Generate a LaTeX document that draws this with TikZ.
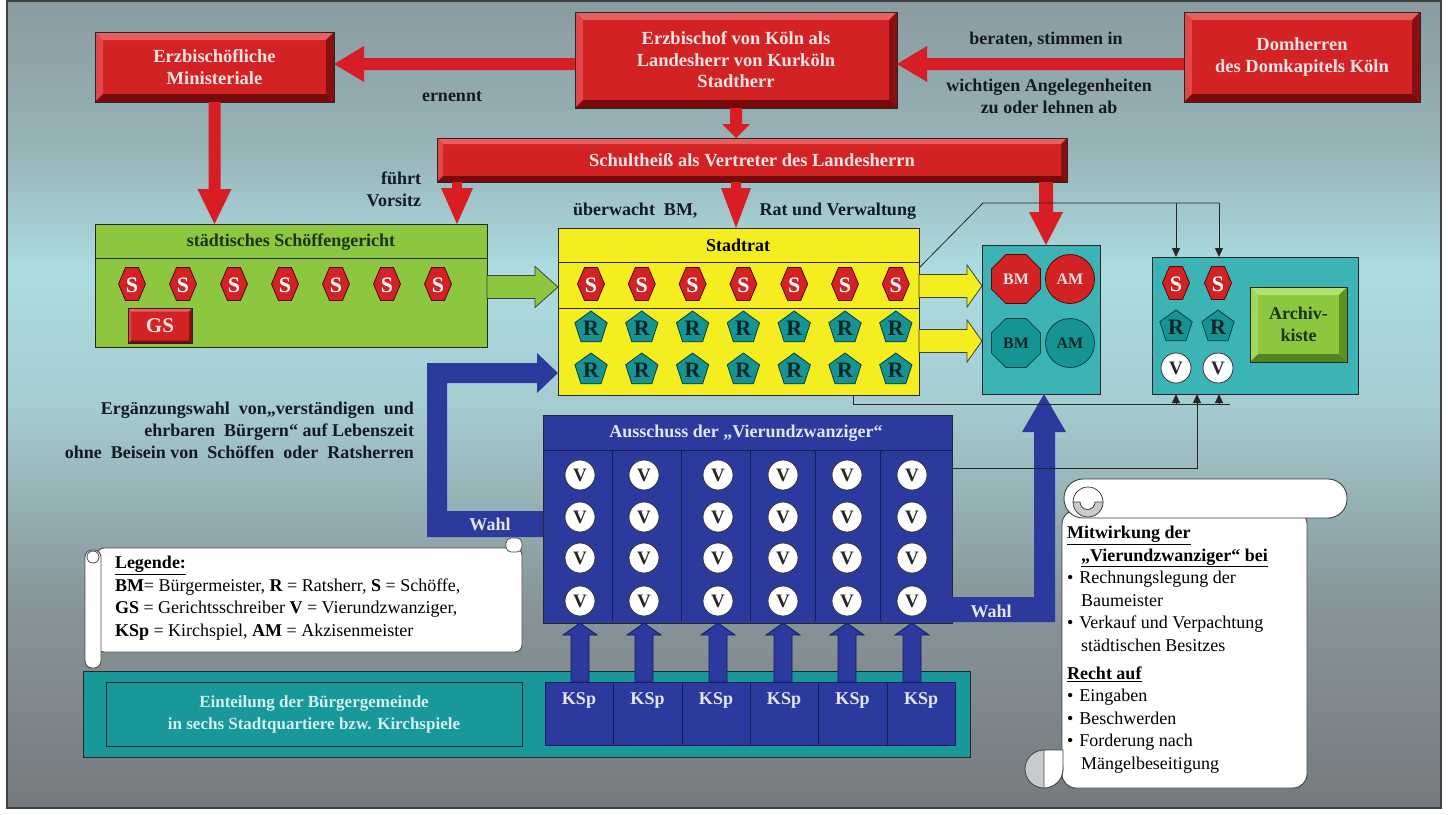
\documentclass[tikz,border=0pt]{standalone}
\usepackage{fontspec}
\setmainfont{Liberation Serif}
\usetikzlibrary{calc,shapes.geometric,arrows.meta}

\definecolor{bgA}{RGB}{118,122,126}
\definecolor{bgB}{RGB}{135,150,155}
\definecolor{bgC}{RGB}{165,205,210}
\definecolor{bgD}{RGB}{172,220,225}
\definecolor{bgE}{RGB}{152,180,185}
\definecolor{bgF}{RGB}{138,155,160}
\pgfdeclareverticalshading{bgsh}{100bp}{color(0bp)=(bgA); color(25bp)=(bgA); color(37.9bp)=(bgB); color(50.3bp)=(bgC); color(58.3bp)=(bgD); color(65.8bp)=(bgE); color(75bp)=(bgF); color(100bp)=(bgF)}

\definecolor{rface}{RGB}{210,34,36}
\definecolor{rlight}{RGB}{232,96,96}
\definecolor{rdark}{RGB}{120,10,12}
\definecolor{rtext}{RGB}{246,228,228}
\definecolor{arred}{RGB}{216,30,36}
\definecolor{gface}{RGB}{141,198,63}
\definecolor{glight}{RGB}{178,226,110}
\definecolor{gdark}{RGB}{84,132,30}
\definecolor{gtext}{RGB}{26,52,20}
\definecolor{yface}{RGB}{244,238,32}
\definecolor{tface}{RGB}{60,180,182}
\definecolor{tdark}{RGB}{10,60,60}
\definecolor{rpent}{RGB}{22,148,148}
\definecolor{rtextd}{RGB}{8,36,36}
\definecolor{bface}{RGB}{44,58,158}
\definecolor{bdark}{RGB}{20,28,90}
\definecolor{btext}{RGB}{228,230,245}
\definecolor{eface}{RGB}{24,152,154}
\definecolor{etext}{RGB}{214,240,238}
\definecolor{dtext}{RGB}{20,26,36}
\definecolor{sgray}{RGB}{200,202,204}

\newcommand\fntB{\bfseries\fontsize{18}{22}\selectfont}
\newcommand\fntBox{\bfseries\fontsize{18.5}{21.5}\selectfont}
\newcommand\fntReg{\fontsize{18}{22.6}\selectfont}
\newcommand\fntLet{\bfseries\fontsize{22}{22}\selectfont}
\newcommand\fntV{\bfseries\fontsize{19}{19}\selectfont}
\newcommand\fntBM{\bfseries\fontsize{16}{16}\selectfont}

% horizontal block arrow: style, tail, tip, half shaft, half head, signed head offset
\newcommand\bkarrowH[6]{\path[#1] let \p1=(#2), \p2=(#3) in
 (\x1,{\y1+#4}) -- ({\x2+(#6)},{\y1+#4}) -- ({\x2+(#6)},{\y1+#5}) -- (\x2,\y1) --
 ({\x2+(#6)},{\y1-#5}) -- ({\x2+(#6)},{\y1-#4}) -- (\x1,{\y1-#4}) -- cycle;}
% vertical block arrow
\newcommand\bkarrowV[6]{\path[#1] let \p1=(#2), \p2=(#3) in
 ({\x1+#4},\y1) -- ({\x1+#4},{\y2+(#6)}) -- ({\x1+#5},{\y2+(#6)}) -- (\x1,\y2) --
 ({\x1-#5},{\y2+(#6)}) -- ({\x1-#4},{\y2+(#6)}) -- ({\x1-#4},\y1) -- cycle;}
% bevel on a node
\newcommand\bevelbox[5]{%
 \fill[#3] (#1.north west) -- (#1.north east) -- ($(#1.north east)+(-#5,#5)$) -- ($(#1.north west)+(#5,#5)$) -- cycle;
 \fill[#3!60!#2] (#1.north west) -- ($(#1.north west)+(#5,#5)$) -- ($(#1.south west)+(#5,-#5)$) -- (#1.south west) -- cycle;
 \fill[#4!80!#2] (#1.north east) -- ($(#1.north east)+(-#5,#5)$) -- ($(#1.south east)+(-#5,-#5)$) -- (#1.south east) -- cycle;
 \fill[#4] (#1.south west) -- ($(#1.south west)+(#5,-#5)$) -- ($(#1.south east)+(-#5,-#5)$) -- (#1.south east) -- cycle;
 \draw[black!85, line width=0.8pt] (#1.north west) rectangle (#1.south east);}

\tikzset{
  every node/.style={inner sep=0pt, outer sep=0pt},
  redbox/.style={fill=rface, text=rtext, font=\fntBox, align=center},
  plainbox/.style={draw=black!85, line width=0.9pt},
  lbl/.style={font=\fntB, text=dtext},
  rp/.style={regular polygon, regular polygon sides=5, minimum size=34pt, fill=rpent, draw=tdark, line width=0.8pt, font=\fntLet, text=rtextd},
  vc/.style={circle, minimum size=30pt, fill=white, draw=black!80, line width=0.8pt, font=\fntV, text=black!85},
  thinline/.style={draw=black!85, line width=0.8pt},
  thinar/.style={thinline, -{Triangle[length=9pt,width=8pt]}},
  pics/shex/.style={code={
    \path[fill=rface, draw=rdark!70!black, line width=0.8pt] (-6.5,-16.5) -- (6.5,-16.5) -- (13.5,0) -- (6.5,16.5) -- (-6.5,16.5) -- (-13.5,0) -- cycle;
    \node[font=\fntLet, text=white] (-t) at (0,1) {S};
  }},
}

\begin{document}
\begin{tikzpicture}[x=1pt,y=-1pt]
\useasboundingbox (0,0) rectangle (1448,814);
\fill[white] (0,0) rectangle (1448,814);
\shade[shading=bgsh] (7,1) rectangle (1441,808);
\draw[black!75, line width=1.6pt] (7,1) rectangle (1441,808);

% helper levels
\foreach \v in {64,258,262,268,286,287,308,341,373,450,511,537,597,622} \coordinate (hy\v) at (0,\v);
\foreach \v in {457,736,1044,1046,1176,1197,1219} \coordinate (hx\v) at (\v,0);

% ---------- top red boxes
\node[redbox, minimum width=239pt, minimum height=70pt] (min) at (214.5,67) {Erzbischöfliche\\Ministeriale};
\bevelbox{min}{rface}{rlight}{rdark}{8}
\node[redbox, minimum width=322pt, minimum height=96pt] (erz) at (736,60) {Erzbischof von Köln als\\Landesherr von Kurköln\\Stadtherr};
\bevelbox{erz}{rface}{rlight}{rdark}{8}
\node[redbox, minimum width=236pt, minimum height=90pt] (dom) at (1302,57) {Domherren\\des Domkapitels Köln};
\bevelbox{dom}{rface}{rlight}{rdark}{8}
\node[redbox, minimum width=630pt, minimum height=44pt] (schult) at (752,160) {Schultheiß als Vertreter des Landesherrn};
\bevelbox{schult}{rface}{rlight}{rdark}{6}

% ---------- Schoeffengericht
\node[plainbox, fill=gface, minimum width=392pt, minimum height=123pt] (schoeff) at (291,285.5) {};
\draw[thinline] (schoeff.west |- hy258) -- (schoeff.east |- hy258);
\node[font=\fntB, text=gtext] (schoeffT) at (291,242) {städtisches Schöffengericht};
\foreach \i in {0,...,6} \pic (sg\i) at ({132+51*\i},284) {shex};
\node[fill=rface, minimum width=64pt, minimum height=35pt, font=\bfseries\fontsize{21}{21}\selectfont, text=rtext] (gs) at (160,326) {GS};
\bevelbox{gs}{rface}{rlight}{rdark}{3}

% ---------- Stadtrat
\node[plainbox, fill=yface, minimum width=361pt, minimum height=167pt] (stadtrat) at (738.5,311.5) {};
\draw[thinline] (stadtrat.west |- hy262) -- (stadtrat.east |- hy262);
\draw[thinline] (stadtrat.west |- hy308) -- (stadtrat.east |- hy308);
\node[font=\fntB, text=black] (stadtratT) at (738,245) {Stadtrat};
\foreach \i in {0,...,6} {
  \pic (ss\i) at ({591+50.8*\i},284) {shex};
  \node[rp] (ra\i) at ({591+50.8*\i},328) {R};
  \node[rp] (rb\i) at ({591+50.8*\i},370) {R};
}

% ---------- BM / AM box
\node[plainbox, fill=tface, minimum width=118pt, minimum height=149pt] (bmbox) at (1041,319.5) {};
\node[regular polygon, regular polygon sides=8, minimum size=53pt, fill=rface, draw=rdark!70!black, line width=0.8pt, font=\fntBM, text=rtext] (bm1) at (1016,279) {BM};
\node[circle, minimum size=49pt, fill=rface, draw=rdark!70!black, line width=0.8pt, font=\fntBM, text=rtext] (am1) at (1070,279) {AM};
\node[regular polygon, regular polygon sides=8, minimum size=53pt, fill=rpent, draw=tdark, line width=0.8pt, font=\fntBM, text=rtextd] (bm2) at (1016,343) {BM};
\node[circle, minimum size=49pt, fill=rpent, draw=tdark, line width=0.8pt, font=\fntBM, text=rtextd] (am2) at (1070,343) {AM};

% ---------- Archive box
\node[plainbox, fill=tface, minimum width=206pt, minimum height=137pt] (arch) at (1255,325.5) {};
\pic (as1) at (1176,283) {shex};
\pic (as2) at (1218,283) {shex};
\node[rp] (ar1) at (1176,327) {R};
\node[rp] (ar2) at (1218,327) {R};
\node[vc] (av1) at (1176,368) {V};
\node[vc] (av2) at (1218,368) {V};
\node[fill=gface, minimum width=97pt, minimum height=75pt, font=\fntB, text=gtext, align=center] (kiste) at (1298.5,324.5) {Archiv-\\kiste};
\bevelbox{kiste}{gface}{glight}{gdark}{8}

% ---------- Einteilung
\node[plainbox, fill=eface, minimum width=887pt, minimum height=86pt] (eint) at (526.5,714) {};
\node[plainbox, fill=eface, minimum width=416pt, minimum height=64pt, align=center, font=\bfseries\fontsize{17}{22}\selectfont, text=etext] (einT) at (314,714) {Einteilung der Bürgergemeinde\\in sechs Stadtquartiere bzw. Kirchspiele};
\foreach \xa/\xb [count=\ci] in {545/613,613/682,682/750,750/818,818/887,887/955} {
  \node[draw=bdark, line width=0.8pt, fill=bface, minimum width={\xb-\xa}, minimum height=63pt] (ksp\ci) at ({(\xa+\xb)/2},713.5) {};
  \node[font=\fntB, text=btext] (kspT\ci) at ({(\xa+\xb)/2},700) {KSp};
}

% ---------- Ausschuss
\node[plainbox, fill=bface, minimum width=409pt, minimum height=208pt] (aus) at (747.5,519) {};
\draw[draw=bdark, line width=0.8pt] (aus.west |- hy450) -- (aus.east |- hy450);
\node[font=\fntB, text=btext] (ausT) at (746,433) {Ausschuss der „Vierundzwanziger“};
\foreach \x in {612,681,750,815,880} \draw[draw=bdark, line width=0.8pt] (\x,450) -- (\x,621);
\foreach \x [count=\ci] in {580,644,718,783,847,912} {
  \foreach \y [count=\ri] in {475,517,558,601} {
    \node[vc] (v\ci-\ri) at (\x,\y) {V};
  }
}

% ---------- red arrows
\bkarrowH{fill=arred}{erz.west |- hy64}{min.east |- hy64}{6pt}{18pt}{30pt}
\bkarrowH{fill=arred}{dom.west |- hy64}{erz.east |- hy64}{6pt}{18pt}{30pt}
\bkarrowV{fill=arred}{erz.south}{schult.north}{6pt}{14pt}{14pt}
\bkarrowV{fill=arred}{min.south}{schoeff.north}{6pt}{17pt}{35pt}
\bkarrowV{fill=arred}{schult.south -| hx457}{schoeff.north -| hx457}{5pt}{16pt}{36pt}
\bkarrowV{fill=arred}{schult.south -| hx736}{stadtrat.north -| hx736}{5pt}{15pt}{40pt}
\bkarrowV{fill=arred}{schult.south -| hx1046}{bmbox.north -| hx1046}{7pt}{17pt}{33pt}

% ---------- green / yellow arrows
\bkarrowH{fill=gface, draw=black!75, line width=0.8pt}{schoeff.east |- hy287}{stadtrat.west |- hy287}{11.5pt}{20.5pt}{-23pt}
\bkarrowH{fill=yface, draw=black!75, line width=0.8pt}{stadtrat.east |- hy286}{bmbox.west |- hy286}{11.5pt}{21pt}{-15pt}
\bkarrowH{fill=yface, draw=black!75, line width=0.8pt}{stadtrat.east |- hy341}{bmbox.west |- hy341}{11.5pt}{21pt}{-15pt}

% ---------- KSp arrows
\foreach \ci in {1,...,6} {\bkarrowV{fill=bface, draw=bdark, line width=0.8pt}{v\ci-4 |- ksp\ci.north}{v\ci-4 |- aus.south}{9pt}{17pt}{-12pt}}

% ---------- blue Wahl arrows
\path[fill=bface] (aus.west |- hy511) -- (447,511) -- (447,383) -- (537,383) -- (537,393) -- (stadtrat.west |- hy373) -- (537,353) -- (537,363) -- (427,363) -- (427,537) -- (aus.west |- hy537) -- cycle;
\node[font=\fntB, text=btext] (wahlA) at (490,524) {Wahl};
\path[fill=bface] (aus.east |- hy597) -- (1034,597) -- (1034,432) -- (1022,432) -- (bmbox.south -| hx1044) -- (1066,432) -- (1055,432) -- (1055,622) -- (aus.east |- hy622) -- cycle;
\node[font=\fntB, text=btext] (wahlB) at (991,611) {Wahl};

% ---------- thin connectors
\coordinate (dg) at (983,203);
\coordinate (ta) at (1176,203);
\coordinate (tb) at (1219,203);
\draw[thinline] (stadtrat.east |- hy268) -- (dg) -- (tb);
\draw[thinar] (tb) -- (tb |- arch.north);
\draw[thinar] (ta) -- (ta |- arch.north);
\coordinate (bl) at (853,404);
\coordinate (br) at (1230,404);
\draw[thinline] (bl |- stadtrat.south) -- (bl) -- (br);
\foreach \v in {1176,1197,1219} \draw[thinar] (hx\v |- bl) -- (arch.south -| hx\v);
\coordinate (vl) at (1197,468);
\draw[thinline] (aus.east |- vl) -- (vl) -- (vl |- bl);

% ---------- labels
\node[lbl] (ernennt) at (452,97) {ernennt};
\node[lbl] (berat) at (1046,40) {beraten, stimmen in};
\node[lbl, align=center] (wicht) at (1049,96) {wichtigen Angelegenheiten\\zu oder lehnen ab};
\node[lbl, align=right, anchor=east] (fuehrt) at (421,189) {führt\\Vorsitz};
\node[lbl, anchor=west] (ueberw) at (573,211) {überwacht\ \ BM,};
\node[lbl, anchor=east] (ratv) at (916,211) {Rat und Verwaltung};
\node[lbl, align=right, anchor=east] (ergw) at (414,430) {Ergänzungswahl\ \ von„verständigen\ \ und\\ehrbaren\ \ Bürgern“ auf Lebenszeit\\ohne\ \ Beisein von\ \ Schöffen\ \ oder\ \ Ratsherren};

% ---------- legend scroll
\node[draw=black!70, fill=white, line width=0.9pt, rounded corners=7pt, minimum width=425pt, minimum height=104pt] (leg) at (309.5,600) {};
\path[draw=black!70, fill=white, line width=0.9pt, rounded corners=7pt] (85,550) rectangle (101,668);
\path[draw=black!70, fill=white, line width=0.8pt] (93,557) circle[radius=6];
\path[draw=black!70, fill=white, line width=0.8pt, rounded corners=5pt] (506,538) rectangle (522,552);
\node[anchor=north west, align=left, font=\fntReg, text=black] (legT) at (115,556) {\textbf{\underline{Legende:}}\\
\textbf{BM}= Bürgermeister, \textbf{R} = Ratsherr, \textbf{S} = Schöffe,\\
\textbf{GS} = Gerichtsschreiber \textbf{V} = Vierundzwanziger,\\
\textbf{KSp} = Kirchspiel, \textbf{AM} = Akzisenmeister};

% ---------- right scroll
\node[draw=black!75, fill=white, line width=0.9pt, rounded corners=14pt, minimum width=245pt, minimum height=278pt] (scr) at (1184.5,649) {};
\node[draw=black!75, fill=white, line width=0.9pt, rounded corners=19pt, minimum width=283pt, minimum height=39pt] (scrtop) at (1205.5,498.5) {};
\path[fill=sgray, draw=black!75, line width=0.8pt] (1073,502) arc[start angle=180, end angle=0, radius=15] -- (1095,502) arc[start angle=0, end angle=180, radius=7.5] -- cycle;
\path[draw=black!75, line width=0.8pt] (1073,502) arc[start angle=180, end angle=360, radius=15];
\path[fill=sgray, draw=black!75, line width=0.8pt] (1044,769) circle[radius=19];
\path[fill=white, draw=black!75, line width=0.8pt] (1044,769) -- (1044,750) -- (1063,750) -- (1063,769) arc[start angle=0, end angle=90, radius=19] -- cycle;
\node[anchor=north west, align=left, font=\fntReg, text=black] (scrT) at (1067,526) {%
\textbf{\underline{Mitwirkung der}}\\
\hspace*{14pt}\textbf{\underline{„Vierundzwanziger“ bei}}\\
•\hspace*{6pt}Rechnungslegung der\\
\hspace*{14pt}Baumeister\\
•\hspace*{6pt}Verkauf und Verpachtung\\
\hspace*{14pt}städtischen Besitzes\\[5pt]
\textbf{\underline{Recht auf}}\\
•\hspace*{6pt}Eingaben\\
•\hspace*{6pt}Beschwerden\\
•\hspace*{6pt}Forderung nach\\
\hspace*{14pt}Mängelbeseitigung};
\end{tikzpicture}
\end{document}
